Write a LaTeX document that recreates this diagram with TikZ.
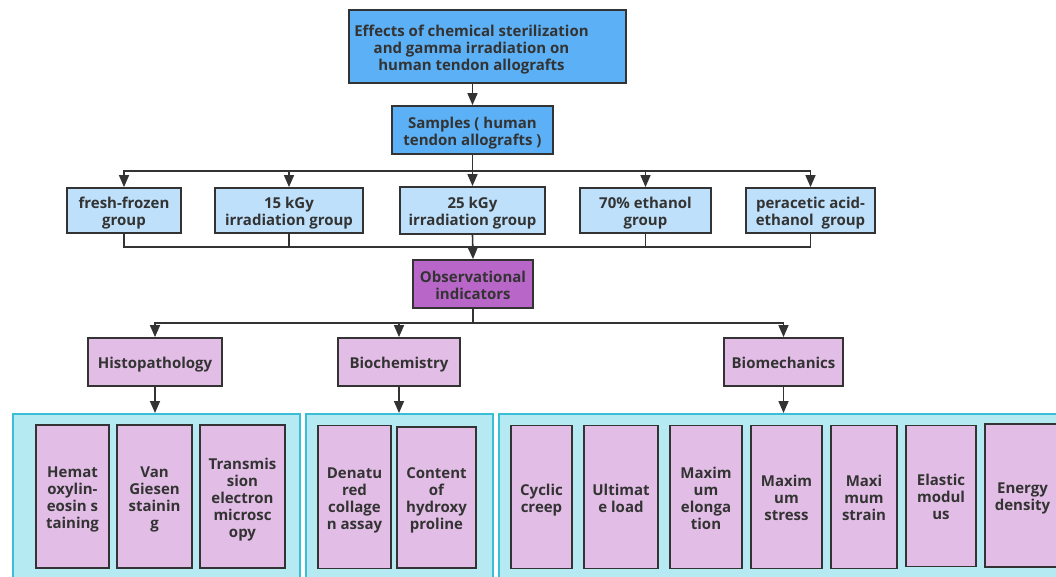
\documentclass[tikz,border=0pt]{standalone}
\usepackage{fontspec}
\setmainfont{Open Sans}
\usetikzlibrary{arrows.meta}
\definecolor{tblue}{RGB}{92,176,245}
\definecolor{lblue}{RGB}{190,224,250}
\definecolor{dpurp}{RGB}{185,102,201}
\definecolor{lpurp}{RGB}{226,190,230}
\definecolor{cyanf}{RGB}{181,234,242}
\definecolor{cyanb}{RGB}{58,190,216}
\definecolor{ink}{RGB}{51,51,51}
\newcommand{\dn}[1]{\raisebox{-3.5pt}[\height][\depth]{\begin{tabular}{@{}c@{}}#1\end{tabular}}}
\tikzset{
  box/.style={draw=ink, line width=1.8pt, text=ink, inner sep=1pt,
    font=\fontsize{15}{17}\selectfont\bfseries},
  tbox/.style={box, fill=tblue},
  gbox/.style={box, fill=lblue},
  obox/.style={box, fill=dpurp},
  pbox/.style={box, fill=lpurp},
  cont/.style={draw=cyanb, line width=1.5pt, fill=cyanf},
  conn/.style={draw=ink, line width=1.6pt},
  arr/.style={conn, -{Triangle[length=12pt,width=10pt]}},
}
\begin{document}
\begin{tikzpicture}[x=1pt,y=-1pt]
\useasboundingbox (0,0) rectangle (1056,577);
\clip (0,0) rectangle (1056,577);
% top
\node[tbox, minimum width=277pt, minimum height=73pt] (title) at (487.5,46.5)
  {\dn{Effects of chemical sterilization\\and gamma irradiation on\\human tendon allografts}\hspace*{32pt}};
\node[tbox, minimum width=161pt, minimum height=48pt] (samp) at (472.5,130)
  {\dn{Samples ( human\\tendon allografts )}};
% groups
\node[gbox, minimum width=114pt, minimum height=45pt] (g1) at (124,210.5) {\dn{fresh-frozen\\group}};
\node[gbox, minimum width=148pt, minimum height=45pt] (g2) at (289,210.5) {\dn{15 kGy\\irradiation group}};
\node[gbox, minimum width=145pt, minimum height=47pt] (g3) at (472.5,210.5) {\dn{25 kGy\\irradiation group}};
\node[gbox, minimum width=131pt, minimum height=45pt] (g4) at (645.5,210.5) {\dn{70\% ethanol\\group}};
\node[gbox, minimum width=129pt, minimum height=45pt] (g5) at (810.5,210.5) {\dn{peracetic acid-\\ethanol\ \ group}};
\node[obox, minimum width=120pt, minimum height=48pt] (obs) at (473,284) {\dn{Observational\\indicators}};
% categories
\node[pbox, minimum width=134pt, minimum height=48pt] (histo) at (155,362) {\dn{Histopathology}};
\node[pbox, minimum width=122pt, minimum height=48pt] (bioc) at (399,362) {\dn{Biochemistry}};
\node[pbox, minimum width=119pt, minimum height=48pt] (biom) at (783.5,362) {\dn{Biomechanics}};
% containers
\node[cont, minimum width=287pt, minimum height=180pt, anchor=north west] (c1) at (12,413) {};
\node[cont, minimum width=187pt, minimum height=180pt, anchor=north west] (c2) at (305,413) {};
\node[cont, minimum width=580pt, minimum height=180pt, anchor=north west] (c3) at (498,413) {};
% inner boxes
\node[pbox, minimum width=73pt, minimum height=143pt] (b1) at (72.5,496.5) {\dn{Hemat\\oxylin-\\eosin s\\taining}};
\node[pbox, minimum width=75pt, minimum height=143pt] (b2) at (154.5,496.5) {\dn{Van\\Giesen\\stainin\\g}};
\node[pbox, minimum width=85pt, minimum height=143pt] (b3) at (242.5,496.5) {\dn{Transmis\\sion\\electron\\microsc\\opy}};
\node[pbox, minimum width=73pt, minimum height=143pt] (b4) at (354.5,497) {\dn{Denatu\\red\\collage\\n assay}};
\node[pbox, minimum width=79pt, minimum height=141pt] (b5) at (436.5,497.5) {\dn{Content\\of\\hydroxy\\proline}};
\node[pbox, minimum width=61pt, minimum height=143pt] (b6) at (541.5,497) {\dn{Cyclic\\creep}};
\node[pbox, minimum width=74pt, minimum height=143pt] (b7) at (621,497) {\dn{Ultimat\\e load}};
\node[pbox, minimum width=72pt, minimum height=143pt] (b8) at (706,497) {\dn{Maxim\\um\\elonga\\tion}};
\node[pbox, minimum width=71pt, minimum height=143pt] (b9) at (786.5,497) {\dn{Maxim\\um\\stress}};
\node[pbox, minimum width=66pt, minimum height=143pt] (b10) at (864,497) {\dn{Maxi\\mum\\strain}};
\node[pbox, minimum width=70pt, minimum height=141pt] (b11) at (941,496) {\dn{Elastic\\modul\\us}};
\node[pbox, minimum width=75pt, minimum height=143pt] (b12) at (1022.5,495.5) {\dn{Energy\\density}};
% connectors
\draw[arr] (samp.north|-title.south) -- (samp.north);
\foreach \g in {g1,g2,g3,g4,g5}{
  \draw[arr] (samp.south) -- ++(0,16) -| (\g.north);
}
\foreach \g in {g1,g2,g4,g5}{
  \draw[conn] (\g.south) -- ++(0,13) -| (g3.south);
}
\draw[arr] (g3.south) -- (obs.north);
\foreach \g in {histo,bioc,biom}{
  \draw[arr] (obs.south) -- ++(0,14) -| (\g.north);
}
\draw[arr] (histo.south) -- (histo.south|-c1.north);
\draw[arr] (bioc.south) -- (bioc.south|-c2.north);
\draw[arr] (biom.south) -- (biom.south|-c3.north);
\end{tikzpicture}
\end{document}
